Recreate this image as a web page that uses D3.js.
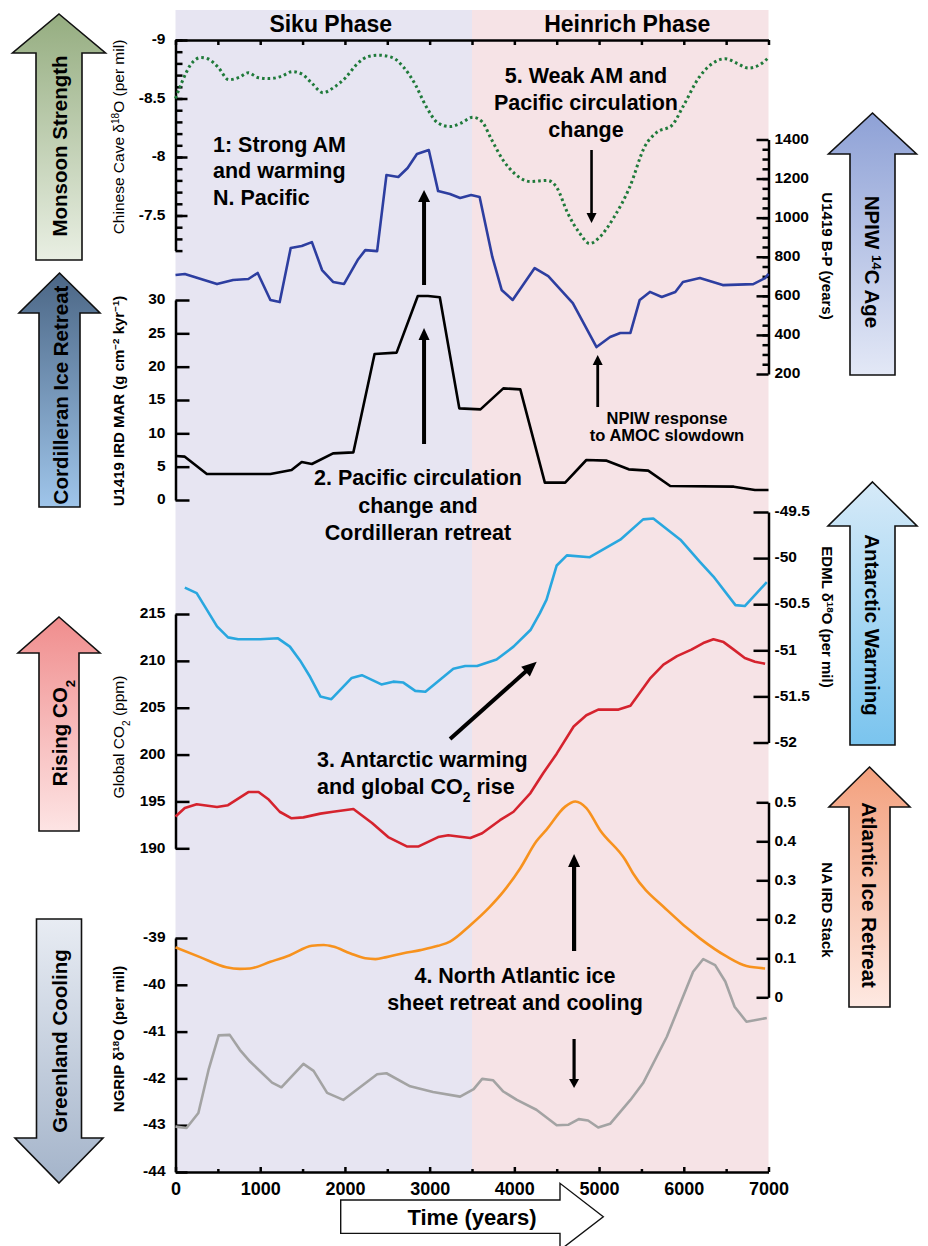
<!DOCTYPE html>
<html>
<head>
<meta charset="utf-8">
<title>Siku and Heinrich phases</title>
<script src="https://cdn.jsdelivr.net/npm/d3@7"></script>
<style>
  body { margin: 0; background: #fff; }
  svg text { font-family: "Liberation Sans", Arial, Helvetica, sans-serif; }
</style>
</head>
<body>
<div id="chart"></div>
<script>
// values, time in years
const caveYears = [0,70,180,300,380,500,630,750,860,970,1110,1250,1380,1490,1610,1740,1880,2010,2150,2280,2400,2560,2690,2830,2960,3100,3240,3370,3510,3620,3730,3870,4000,4190,4390,4500,4630,4770,4890,5000,5180,5360,5540,5680,5860,5990,6180,6360,6490,6630,6760,6900,7000];
const caveD18O = [-8.50,-8.63,-8.79,-8.85,-8.84,-8.77,-8.66,-8.68,-8.72,-8.68,-8.67,-8.69,-8.73,-8.71,-8.63,-8.55,-8.60,-8.68,-8.80,-8.86,-8.87,-8.85,-8.77,-8.62,-8.43,-8.29,-8.26,-8.29,-8.34,-8.30,-8.15,-7.97,-7.86,-7.79,-7.80,-7.74,-7.52,-7.35,-7.26,-7.31,-7.49,-7.74,-8.09,-8.21,-8.27,-8.43,-8.68,-8.81,-8.84,-8.80,-8.76,-8.79,-8.85];

const bpYears = [0,110,490,680,860,970,1120,1230,1360,1490,1610,1730,1860,1990,2150,2240,2380,2490,2630,2740,2850,2990,3100,3240,3360,3490,3590,3740,3850,3980,4240,4400,4690,4970,5130,5250,5370,5480,5600,5740,5900,5990,6190,6460,6820,6960,7000];
const bpAge = [707,712,660,681,686,717,579,568,845,855,875,732,671,661,783,834,829,1218,1208,1254,1326,1346,1136,1121,1101,1116,1106,799,630,579,742,701,563,338,389,410,410,579,620,594,620,671,691,655,660,691,712];

const irdYears = [0,110,370,1120,1370,1490,1610,1860,2100,2350,2610,2860,2980,3120,3350,3600,3870,4070,4360,4600,4850,5090,5350,5580,5840,6590,6840,7000];
const irdMar = [6.6,6.5,3.9,3.9,4.5,5.7,5.4,7.0,7.15,21.9,22.1,30.6,30.6,30.4,13.75,13.6,16.75,16.6,2.6,2.6,6.0,5.9,4.6,4.4,2.1,2.0,1.5,1.5];

const edmlYears = [110,250,490,620,740,1000,1210,1350,1470,1590,1710,1840,2080,2200,2430,2570,2690,2830,2950,3280,3420,3560,3790,3990,4190,4300,4380,4500,4620,4890,5250,5520,5640,5960,6190,6350,6610,6720,6980];
const edmlD18O = [-50.32,-50.38,-50.74,-50.86,-50.88,-50.88,-50.87,-50.96,-51.11,-51.29,-51.50,-51.53,-51.30,-51.27,-51.37,-51.34,-51.35,-51.44,-51.45,-51.20,-51.17,-51.17,-51.10,-50.96,-50.78,-50.60,-50.45,-50.08,-49.97,-49.99,-49.80,-49.58,-49.57,-49.80,-50.04,-50.20,-50.51,-50.52,-50.26];

const co2Years = [0,110,250,490,620,860,980,1100,1230,1370,1510,1710,1860,2100,2320,2510,2730,2870,3100,3220,3480,3620,3830,3990,4190,4340,4500,4700,4850,4990,5230,5370,5600,5760,5920,6090,6230,6350,6470,6590,6720,6840,6960];
const co2Ppm = [193.4,194.3,194.7,194.4,194.6,196.0,196.0,195.2,193.9,193.2,193.3,193.7,193.9,194.2,192.7,191.2,190.2,190.2,191.2,191.4,191.1,191.6,193.0,193.9,195.9,198.0,200.1,203.0,204.2,204.8,204.8,205.2,208.1,209.6,210.5,211.2,211.9,212.3,212.0,211.2,210.3,209.9,209.7];

const naYears = [0,290,600,760,880,1120,1350,1610,1750,1860,2060,2240,2360,2490,2690,2890,3100,3240,3480,3710,3870,4070,4260,4380,4600,4720,4850,5010,5310,5400,5800,6190,6510,6740,6960];
const naIrd = [0.128,0.103,0.077,0.073,0.074,0.091,0.108,0.132,0.134,0.130,0.113,0.100,0.098,0.103,0.113,0.121,0.132,0.143,0.185,0.232,0.271,0.331,0.40,0.43,0.489,0.502,0.485,0.429,0.352,0.318,0.224,0.151,0.104,0.080,0.074];

const ngripYears = [0,130,270,390,510,640,760,880,1140,1250,1510,1630,1790,1980,2380,2490,2770,3040,3360,3520,3620,3750,3870,4030,4260,4500,4640,4760,4870,4990,5130,5370,5520,5800,6110,6230,6370,6490,6600,6740,6980];
const ngripD18O = [-43.03,-43.06,-42.74,-41.82,-41.08,-41.07,-41.39,-41.64,-42.09,-42.19,-41.69,-41.84,-42.31,-42.46,-41.91,-41.89,-42.17,-42.29,-42.39,-42.23,-42.01,-42.04,-42.28,-42.46,-42.67,-43.00,-42.99,-42.87,-42.90,-43.05,-42.97,-42.46,-42.10,-41.11,-39.72,-39.45,-39.58,-39.93,-40.47,-40.79,-40.71];

const phaseNames = ["Siku Phase", "Heinrich Phase"];
const phaseStart = [0, 3500];
const phaseEnd = [3500, 7000];

// tick labels
const timeTicks = [0,1000,2000,3000,4000,5000,6000,7000];
const caveTicks = [-9,-8.5,-8,-7.5];
const bpTicks = [200,400,600,800,1000,1200,1400];
const irdTicks = [0,5,10,15,20,25,30];
const edmlTicks = [-52,-51.5,-51,-50.5,-50,-49.5];
const co2Ticks = [190,195,200,205,210,215];
const naTicks = [0,0.1,0.2,0.3,0.4,0.5];
const ngripTicks = [-44,-43,-42,-41,-40,-39];

const svg = d3.select("#chart").append("svg")
  .attr("width", 928).attr("height", 1246).style("display", "block");

const x = d3.scaleLinear().domain([0, 7000]).range([175.5, 768.5]);
const yCave = d3.scaleLinear().domain([-9, -7.2]).range([40, 250.6]);
const yBP = d3.scaleLinear().domain([200, 1400]).range([374, 139.5]);
const yIRD = d3.scaleLinear().domain([0, 30]).range([500, 300]);
const yEDML = d3.scaleLinear().domain([-52, -49.5]).range([742.5, 512]);
const yCO2 = d3.scaleLinear().domain([190, 215]).range([848.3, 614]);
const yNA = d3.scaleLinear().domain([0, 0.5]).range([997.3, 802.3]);
const yNGRIP = d3.scaleLinear().domain([-44, -39]).range([1172, 938]);

const plotTop = 10, plotBottom = 1172;

// phase backgrounds
svg.selectAll("rect.phase")
  .data(phaseNames)
  .join("rect")
  .attr("class", "phase")
  .attr("x", (d, i) => x(phaseStart[i]))
  .attr("width", (d, i) => x(phaseEnd[i]) - x(phaseStart[i]))
  .attr("y", plotTop)
  .attr("height", plotBottom - plotTop)
  .attr("fill", (d, i) => i === 0 ? "#e7e5f2" : "#f6e3e6");

svg.selectAll("text.phase")
  .data(phaseNames)
  .join("text")
  .attr("class", "phase")
  .attr("x", (d, i) => (x(phaseStart[i]) + x(phaseEnd[i])) / 2 + 7)
  .attr("y", 32)
  .attr("text-anchor", "middle")
  .attr("font-size", 23)
  .attr("font-weight", "bold")
  .text(d => d);

// axes
const fmt = d => String(d);

function drawAxis(gen, tx, ty, fontSize, minor) {
  const g = svg.append("g").attr("transform", `translate(${tx},${ty})`).call(gen);
  g.attr("font-family", null).attr("font-size", null);
  g.select(".domain").attr("stroke", "#000").attr("stroke-width", 2.5);
  g.selectAll(".tick line").attr("stroke", "#000").attr("stroke-width", 2.5);
  g.selectAll(".tick text")
    .attr("font-size", fontSize)
    .attr("font-weight", "bold")
    .attr("fill", "#000");
  if (minor) g.select(".domain").remove();
  return g;
}

const xLeft = x(0), xRight = x(7000);

// top frame
drawAxis(d3.axisTop(x).tickValues(d3.range(0, 7001, 500)).tickSize(-5).tickSizeOuter(0).tickFormat(""), 0, 40, 1);
// bottom time axis
drawAxis(d3.axisBottom(x).tickValues(timeTicks).tickSize(-5).tickSizeOuter(0).tickPadding(10).tickFormat(fmt), 0, plotBottom, 18);
drawAxis(d3.axisBottom(x).tickValues(d3.range(500, 7000, 1000)).tickSize(-3).tickFormat(""), 0, plotBottom, 1, true);

// left axes
drawAxis(d3.axisLeft(yCave).tickValues(caveTicks).tickSize(-12).tickSizeOuter(0).tickPadding(10).tickFormat(fmt), xLeft, 0, 15.5)
  .selectAll(".tick text").attr("dy", "0.24em");
drawAxis(d3.axisLeft(yCave).tickValues(d3.range(0, 19).map(i => -9 + i * 0.1)).tickSize(-7).tickFormat(""), xLeft, 0, 1, true);

drawAxis(d3.axisLeft(yIRD).tickValues(irdTicks).tickSize(-14).tickSizeOuter(0).tickPadding(10).tickFormat(fmt), xLeft, 0, 15.5)
  .selectAll(".tick text").attr("dy", "0.24em");
drawAxis(d3.axisLeft(yCO2).tickValues(co2Ticks).tickSize(-14).tickSizeOuter(0).tickPadding(10).tickFormat(fmt), xLeft, 0, 15.5)
  .selectAll(".tick text").attr("dy", "0.24em");
drawAxis(d3.axisLeft(yNGRIP).tickValues(ngripTicks).tickSize(-12).tickSizeOuter(0).tickPadding(10).tickFormat(fmt), xLeft, 0, 15.5)
  .selectAll(".tick text").attr("dy", "0.24em");

// right axes
drawAxis(d3.axisRight(yBP).tickValues(bpTicks).tickSize(-12).tickSizeOuter(0).tickPadding(6).tickFormat(fmt), xRight, 0, 15.5)
  .selectAll(".tick text").attr("dy", "0.24em");
drawAxis(d3.axisRight(yBP).tickValues(d3.range(250, 1400, 50)).tickSize(-6).tickFormat(""), xRight, 0, 1, true);
drawAxis(d3.axisRight(yEDML).tickValues(edmlTicks).tickSize(-15).tickSizeOuter(0).tickPadding(6).tickFormat(fmt), xRight, 0, 15.5)
  .selectAll(".tick text").attr("dy", "0.24em");
drawAxis(d3.axisRight(yNA).tickValues(naTicks).tickSize(-12).tickSizeOuter(0).tickPadding(6).tickFormat(fmt), xRight, 0, 15.5)
  .selectAll(".tick text").attr("dy", "0.24em");

// rich text helper: parts = [text, "sup" | "sub" | undefined]
function richText(sel, parts) {
  parts.forEach(([t, kind]) => {
    const ts = sel.append("tspan").text(t);
    if (kind === "sup") ts.attr("baseline-shift", "super").attr("font-size", "65%");
    if (kind === "sub") ts.attr("baseline-shift", "sub").attr("font-size", "65%");
  });
  return sel;
}

function rotatedLabel(parts, cx, cy, angle, size, weight) {
  const t = svg.append("text")
    .attr("transform", `translate(${cx},${cy}) rotate(${angle})`)
    .attr("text-anchor", "middle")
    .attr("dy", "0.35em")
    .attr("font-size", size)
    .attr("font-weight", weight || "bold")
    .attr("fill", "#000");
  return richText(t, parts);
}

// axis titles
rotatedLabel([["Chinese Cave δ"], ["18", "sup"], ["O (per mil)"]], 119, 137, -90, 15.5, "normal");
rotatedLabel([["U1419 IRD MAR (g cm"], ["−2", "sup"], [" kyr"], ["−1", "sup"], [")"]], 119, 401, -90, 15);
rotatedLabel([["Global CO"], ["2", "sub"], [" (ppm)"]], 119, 737, -90, 15.5, "normal");
rotatedLabel([["NGRIP δ"], ["18", "sup"], ["O (per mil)"]], 119, 1039, -90, 15);
rotatedLabel([["U1419 B-P (years)"]], 827, 256, 90, 15);
rotatedLabel([["EDML δ"], ["18", "sup"], ["O (per mil)"]], 827, 617, 90, 15);
rotatedLabel([["NA IRD Stack"]], 827, 910, 90, 15);

// data lines
function drawSeries(years, values, yScale, color, opts) {
  const pts = years.map((t, i) => [t, values[i]]);
  const line = d3.line()
    .x(d => x(d[0]))
    .y(d => yScale(d[1]))
    .curve(opts && opts.smooth ? d3.curveMonotoneX : d3.curveLinear);
  const p = svg.append("path")
    .datum(pts)
    .attr("d", line)
    .attr("fill", "none")
    .attr("stroke", color)
    .attr("stroke-width", (opts && opts.width) || 2.6)
    .attr("stroke-linejoin", "round");
  if (opts && opts.dash) p.attr("stroke-dasharray", opts.dash);
  return p;
}

drawSeries(caveYears, caveD18O, yCave, "#1f7a3a", { smooth: true, width: 3, dash: "2.6,3" });
drawSeries(bpYears, bpAge, yBP, "#2d3ea0");
drawSeries(irdYears, irdMar, yIRD, "#000000");
drawSeries(edmlYears, edmlD18O, yEDML, "#29a7df");
drawSeries(co2Years, co2Ppm, yCO2, "#d5232e");
drawSeries(naYears, naIrd, yNA, "#f7921e", { smooth: true });
drawSeries(ngripYears, ngripD18O, yNGRIP, "#a3a3a3");

// big block arrows at the sides
const blockArrows = [
  { id: "g1", parts: [["Monsoon Strength"]], cx: 59, tip: 14, head: 53, headHalf: 46.5, shaftHalf: 23, end: 260, c0: "#95ad80", c1: "#e9efe3", rot: -90, ty: 146 },
  { id: "g2", parts: [["Cordilleran Ice Retreat"]], cx: 59.5, tip: 273, head: 313, headHalf: 40.5, shaftHalf: 20.5, end: 507, c0: "#4b6685", c1: "#9fc5ea", rot: -90, ty: 395 },
  { id: "g3", parts: [["Rising CO"], ["2", "sub"]], cx: 59, tip: 617, head: 653, headHalf: 41, shaftHalf: 20, end: 831, c0: "#f08d8d", c1: "#fde4e4", rot: -90, ty: 733 },
  { id: "g4", parts: [["Greenland Cooling"]], cx: 59, tip: 1183, head: 1138, headHalf: 44, shaftHalf: 22.5, end: 919, c0: "#e8ecf3", c1: "#a4b4ca", rot: -90, ty: 1041 },
  { id: "g5", parts: [["NPIW "], ["14", "sup"], ["C Age"]], cx: 872.5, tip: 113, head: 154, headHalf: 44, shaftHalf: 22.5, end: 375, c0: "#8ea1d6", c1: "#e3e8f6", rot: 90, ty: 262 },
  { id: "g6", parts: [["Antarctic Warming"]], cx: 872.5, tip: 482, head: 526, headHalf: 44.5, shaftHalf: 22.5, end: 745, c0: "#d6eaf8", c1: "#7ac4ee", rot: 90, ty: 625 },
  { id: "g7", parts: [["Atlantic Ice Retreat"]], cx: 869.5, tip: 767, head: 807, headHalf: 40.5, shaftHalf: 20.5, end: 1007, c0: "#f3a07d", c1: "#fee9e2", rot: 90, ty: 895 }
];

const defs = svg.append("defs");
blockArrows.forEach(a => {
  const top = Math.min(a.tip, a.end), bot = Math.max(a.tip, a.end);
  const grad = defs.append("linearGradient")
    .attr("id", a.id)
    .attr("gradientUnits", "userSpaceOnUse")
    .attr("x1", 0).attr("x2", 0).attr("y1", top).attr("y2", bot);
  grad.append("stop").attr("offset", "0%").attr("stop-color", a.c0);
  grad.append("stop").attr("offset", "100%").attr("stop-color", a.c1);

  const pts = [
    [a.cx, a.tip], [a.cx + a.headHalf, a.head], [a.cx + a.shaftHalf, a.head],
    [a.cx + a.shaftHalf, a.end], [a.cx - a.shaftHalf, a.end],
    [a.cx - a.shaftHalf, a.head], [a.cx - a.headHalf, a.head]
  ];
  svg.append("polygon")
    .attr("points", pts.map(p => p.join(",")).join(" "))
    .attr("fill", `url(#${a.id})`)
    .attr("stroke", "#111")
    .attr("stroke-width", 1.6)
    .attr("stroke-linejoin", "miter");
  rotatedLabel(a.parts, a.cx + (a.rot < 0 ? 1 : 0), a.ty, a.rot, 20.5);
});

// time arrow
const timeArrow = { tipX: 603.3, headX: 560, endX: 340.7, cy: 1216.7, headHalf: 33.4, shaftHalf: 16.7 };
svg.append("polygon")
  .attr("points", [
    [timeArrow.tipX, timeArrow.cy], [timeArrow.headX, timeArrow.cy - timeArrow.headHalf],
    [timeArrow.headX, timeArrow.cy - timeArrow.shaftHalf], [timeArrow.endX, timeArrow.cy - timeArrow.shaftHalf],
    [timeArrow.endX, timeArrow.cy + timeArrow.shaftHalf], [timeArrow.headX, timeArrow.cy + timeArrow.shaftHalf],
    [timeArrow.headX, timeArrow.cy + timeArrow.headHalf]
  ].map(p => p.join(",")).join(" "))
  .attr("fill", "#fff")
  .attr("stroke", "#111")
  .attr("stroke-width", 1.4);
svg.append("text")
  .attr("x", 472).attr("y", 1225)
  .attr("text-anchor", "middle")
  .attr("font-size", 22)
  .attr("font-weight", "bold")
  .text("Time (years)");

// pointer arrows
function pointer(t1, y1, t2, y2, w, headLen, headHalf) {
  const x1 = x(t1), x2 = x(t2);
  const dx = x2 - x1, dy = y2 - y1, L = Math.hypot(dx, dy);
  const ux = dx / L, uy = dy / L;
  const bx = x2 - ux * headLen, by = y2 - uy * headLen;
  svg.append("line")
    .attr("x1", x1).attr("y1", y1)
    .attr("x2", bx + ux).attr("y2", by + uy)
    .attr("stroke", "#000").attr("stroke-width", w);
  svg.append("polygon")
    .attr("points", [[x2, y2], [bx - uy * headHalf, by + ux * headHalf], [bx + uy * headHalf, by - ux * headHalf]]
      .map(p => p.join(",")).join(" "))
    .attr("fill", "#000");
}

pointer(2934, 285, 2934, 190, 4, 12, 6);
pointer(2934, 444, 2934, 328, 4, 12, 5.5);
pointer(4911, 150, 4911, 223, 2.6, 10, 5);
pointer(4984, 407, 4984, 355, 2.8, 10, 5);
pointer(3241, 739, 4264, 661.7, 4, 15, 6.5);
pointer(4705, 951, 4705, 854, 4.2, 13, 6);
pointer(4705, 1039, 4705, 1088, 3.2, 9, 5);

// annotations
function note(lines, px, baseY, step, anchor, size) {
  lines.forEach((parts, i) => {
    const t = svg.append("text")
      .attr("x", px).attr("y", baseY + i * step)
      .attr("text-anchor", anchor)
      .attr("font-size", size)
      .attr("font-weight", "bold")
      .attr("fill", "#000");
    richText(t, parts);
  });
}

note([[["1: Strong AM"]], [["and warming"]], [["N. Pacific"]]], 213, 151.5, 26.5, "start", 21.5);
note([[["5. Weak AM and"]], [["Pacific circulation"]], [["change"]]], 586, 82.5, 27, "middle", 21.5);
note([[["2. Pacific circulation"]], [["change and"]], [["Cordilleran retreat"]]], 418, 485, 27.5, "middle", 21.5);
note([[["NPIW response"]], [["to AMOC slowdown"]]], 667, 424, 16.5, "middle", 16.5);
note([[["3. Antarctic warming"]], [["and global CO"], ["2", "sub"], [" rise"]]], 317, 767, 26.5, "start", 21.5);
note([[["4. North Atlantic ice"]], [["sheet retreat and cooling"]]], 515, 983, 27, "middle", 21.5);
</script>
</body>
</html>
